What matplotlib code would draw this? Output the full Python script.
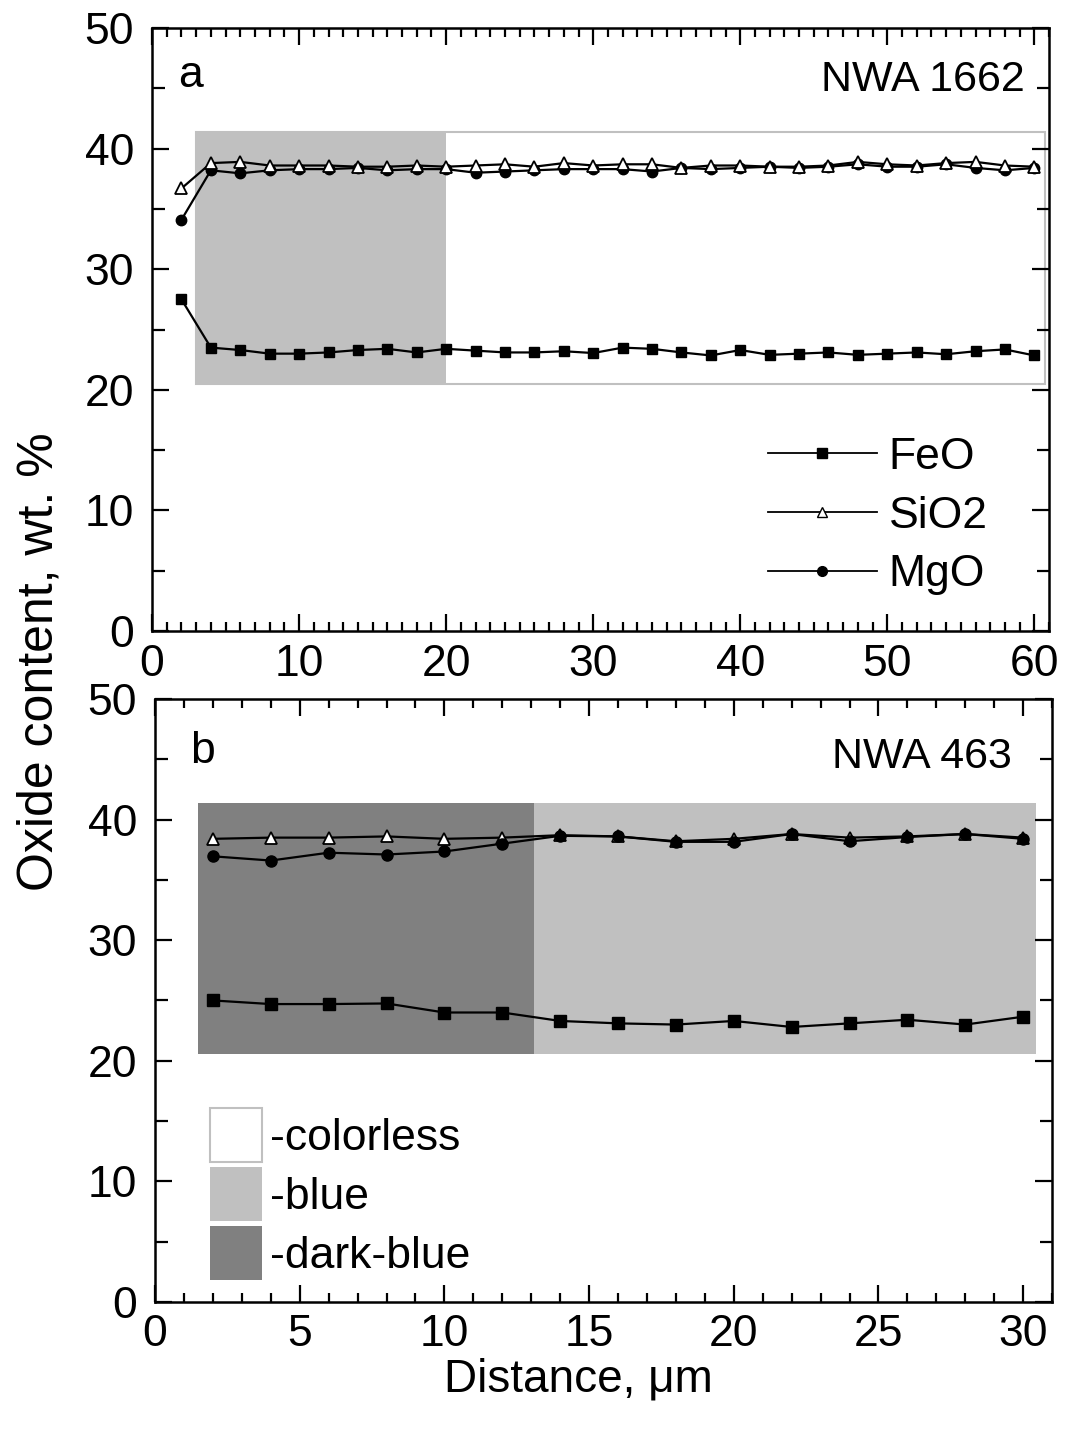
import matplotlib
matplotlib.use("Agg")
import matplotlib.pyplot as plt
from matplotlib.lines import Line2D
from matplotlib.patches import Rectangle, Patch
from matplotlib.ticker import MultipleLocator

plt.rcParams["font.family"] = ["Liberation Sans", "DejaVu Sans"]

# ---- Panel a: NWA 1662 ----
dist_a = [2, 4, 6, 8, 10, 12, 14, 16, 18, 20, 22, 24, 26, 28, 30,
          32, 34, 36, 38, 40, 42, 44, 46, 48, 50, 52, 54, 56, 58, 60]
feo_a = [27.5, 23.5, 23.3, 23.0, 23.0, 23.1, 23.3, 23.4, 23.1, 23.4, 23.25, 23.1, 23.1, 23.2, 23.05,
         23.5, 23.4, 23.1, 22.85, 23.3, 22.9, 23.0, 23.1, 22.9, 23.0, 23.1, 22.95, 23.2, 23.35, 22.85]
sio2_a = [36.7, 38.8, 38.9, 38.6, 38.6, 38.6, 38.5, 38.5, 38.6, 38.5, 38.6, 38.7, 38.5, 38.8, 38.6,
          38.7, 38.7, 38.4, 38.6, 38.6, 38.5, 38.5, 38.6, 38.9, 38.7, 38.6, 38.8, 38.9, 38.6, 38.5]
mgo_a = [34.1, 38.2, 37.95, 38.2, 38.3, 38.3, 38.4, 38.2, 38.3, 38.3, 38.0, 38.1, 38.2, 38.3, 38.3,
         38.3, 38.1, 38.4, 38.3, 38.4, 38.5, 38.4, 38.5, 38.7, 38.5, 38.5, 38.7, 38.4, 38.2, 38.4]

# colour zones of panel a (x ranges) and their common y span
zone_y_a = [20.5, 41.4]
blue_a = [3.0, 20.0]
colorless_a = [3.0, 60.7]

# ---- Panel b: NWA 463 ----
dist_b = [2, 4, 6, 8, 10, 12, 14, 16, 18, 20, 22, 24, 26, 28, 30]
feo_b = [25.0, 24.7, 24.7, 24.75, 24.0, 24.0, 23.3, 23.1, 23.0, 23.3, 22.8, 23.1, 23.4, 23.0, 23.65]
sio2_b = [38.4, 38.5, 38.5, 38.6, 38.4, 38.5, 38.7, 38.6, 38.2, 38.4, 38.8, 38.5, 38.6, 38.8, 38.5]
mgo_b = [36.95, 36.6, 37.25, 37.1, 37.35, 38.0, 38.65, 38.6, 38.15, 38.15, 38.8, 38.2, 38.55, 38.8, 38.4]

zone_y_b = [20.6, 41.4]
darkblue_b = [1.5, 13.1]
blue_b = [13.1, 30.45]

zone_names = ["-colorless", "-blue", "-dark-blue"]
series_names = ["FeO", "SiO2", "MgO"]

LIGHT = "#c0c0c0"
DARK = "#808080"
FS = 32

fig = plt.figure(figsize=(10.67, 14.29), dpi=100)
ax_a = fig.add_axes([0.1425, 0.5584, 0.8407, 0.4220])
ax_b = fig.add_axes([0.1453, 0.0889, 0.8407, 0.4220])


def style_axes(ax, xmax, xmajor):
    ax.set_xlim(0, xmax)
    ax.set_ylim(0, 50)
    ax.xaxis.set_major_locator(MultipleLocator(xmajor))
    ax.xaxis.set_minor_locator(MultipleLocator(1))
    ax.yaxis.set_major_locator(MultipleLocator(10))
    ax.yaxis.set_minor_locator(MultipleLocator(5))
    ax.tick_params(which="both", direction="in", top=True, right=True,
                   labelsize=FS, width=1.6)
    ax.tick_params(which="major", length=12)
    ax.tick_params(axis="x", which="major", pad=9)
    ax.tick_params(axis="y", which="major", pad=13)
    ax.tick_params(axis="x", which="minor", length=6.5)
    ax.tick_params(axis="y", which="minor", length=9)
    for s in ax.spines.values():
        s.set_linewidth(1.8)


line_kw = dict(color="black", lw=1.6)

# Panel a drawing
ax_a.add_patch(Rectangle((colorless_a[0], zone_y_a[0]), colorless_a[1] - colorless_a[0],
                         zone_y_a[1] - zone_y_a[0], facecolor="white", edgecolor=LIGHT,
                         lw=1.5, zorder=0.5))
ax_a.add_patch(Rectangle((blue_a[0], zone_y_a[0]), blue_a[1] - blue_a[0],
                         zone_y_a[1] - zone_y_a[0], facecolor=LIGHT, edgecolor="none",
                         zorder=0.6))
ax_a.plot(dist_a, feo_a, marker="s", ms=7.5, mfc="black", mec="black", **line_kw)
ax_a.plot(dist_a, mgo_a, marker="o", ms=7.5, mfc="black", mec="black", **line_kw)
ax_a.plot(dist_a, sio2_a, marker="^", ms=8.5, mfc="white", mec="black", mew=1.3, **line_kw)
style_axes(ax_a, 61, 10)
ax_a.text(0.029, 0.922, "a", transform=ax_a.transAxes, fontsize=FS, va="center", ha="left")
ax_a.text(0.973, 0.914, "NWA 1662", transform=ax_a.transAxes, fontsize=31, va="center", ha="right")

leg_handles = [
    Line2D([], [], color="black", lw=1.3, marker="s", ms=6.5, mfc="black", mec="black"),
    Line2D([], [], color="black", lw=1.3, marker="^", ms=7.5, mfc="white", mec="black", mew=1.0),
    Line2D([], [], color="black", lw=1.3, marker="o", ms=7, mfc="black", mec="black"),
]
ax_a.legend(leg_handles, series_names, loc="center left", bbox_to_anchor=(0.6867, 0.1907),
            frameon=False, fontsize=FS, handlelength=2.45, handletextpad=0.26,
            borderpad=0, borderaxespad=0, labelspacing=0.4)

# Panel b drawing
ax_b.add_patch(Rectangle((darkblue_b[0], zone_y_b[0]), darkblue_b[1] - darkblue_b[0],
                         zone_y_b[1] - zone_y_b[0], facecolor=DARK, edgecolor="none",
                         zorder=0.5))
ax_b.add_patch(Rectangle((blue_b[0], zone_y_b[0]), blue_b[1] - blue_b[0],
                         zone_y_b[1] - zone_y_b[0], facecolor=LIGHT, edgecolor="none",
                         zorder=0.5))
ax_b.plot(dist_b, feo_b, marker="s", ms=8, mfc="black", mec="black", **line_kw)
ax_b.plot(dist_b, sio2_b, marker="^", ms=9, mfc="white", mec="black", mew=1.3, **line_kw)
ax_b.plot(dist_b, mgo_b, marker="o", ms=8, mfc="black", mec="black", **line_kw)
style_axes(ax_b, 31, 5)
ax_b.text(0.039, 0.912, "b", transform=ax_b.transAxes, fontsize=FS, va="center", ha="left")
ax_b.text(0.955, 0.904, "NWA 463", transform=ax_b.transAxes, fontsize=31, va="center", ha="right")

zone_handles = [
    Patch(facecolor="white", edgecolor=LIGHT, lw=1.5),
    Patch(facecolor=LIGHT, edgecolor="none"),
    Patch(facecolor=DARK, edgecolor="none"),
]
ax_b.legend(zone_handles, zone_names, loc="center left", bbox_to_anchor=(0.0613, 0.179),
            frameon=False, fontsize=FS, handlelength=1.17, handleheight=1.5,
            handletextpad=0.18, borderpad=0, borderaxespad=0, labelspacing=0.11)

fig.text(40 / 1067, 1 - 662 / 1429, "Oxide content, wt. %", rotation=90,
         fontsize=36, ha="center", va="center")
fig.text(578 / 1067, 1 - 1380 / 1429, "Distance, μm", fontsize=33, ha="center", va="center")

fig.savefig("out.png", dpi=100)
